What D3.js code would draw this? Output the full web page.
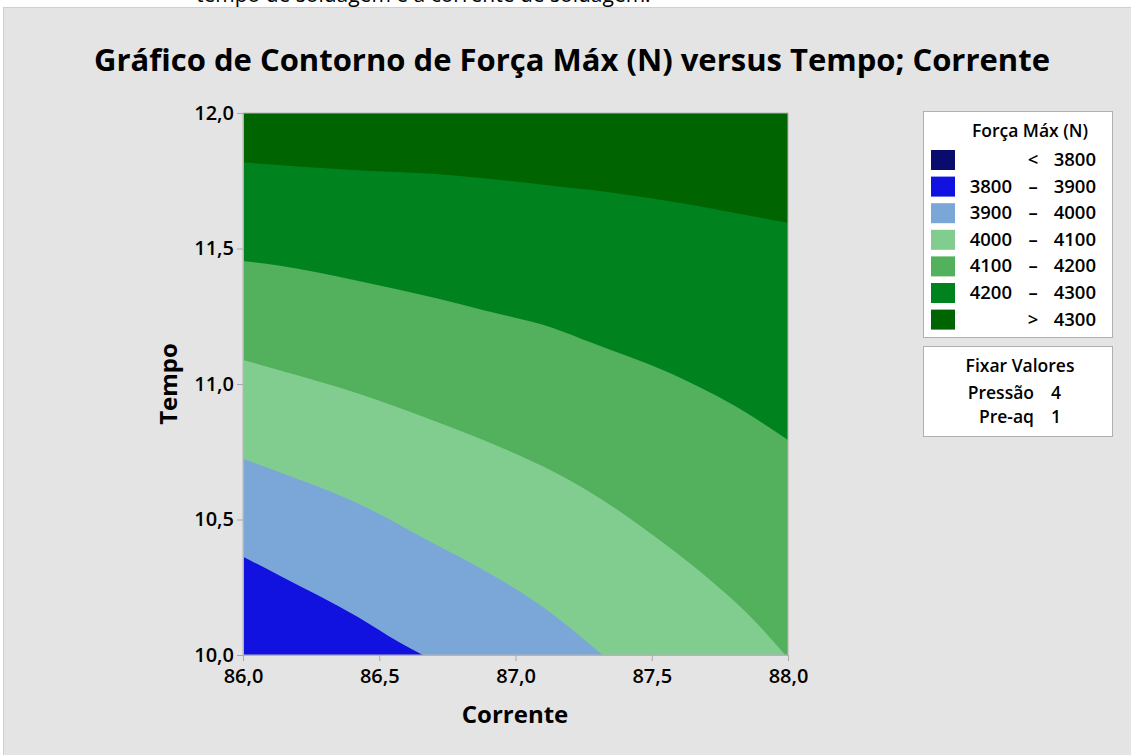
<!DOCTYPE html>
<html>
<head>
<meta charset="utf-8">
<script src="https://cdn.jsdelivr.net/npm/d3@7"></script>
<style>
  body { margin: 0; background: #ffffff; }
  svg text { font-family: "Open Sans", "Noto Sans", sans-serif; fill: #000; }
</style>
</head>
<body>
<div id="chart"></div>
<script>
// valores (Corrente x Tempo)
var xTicks = [86.0, 86.5, 87.0, 87.5, 88.0];
var yTicks = [10.0, 10.5, 11.0, 11.5, 12.0];

// linhas de contorno, pares [Corrente, Tempo]
var line4300 = [[86.00, 11.818], [86.42, 11.789], [86.71, 11.775], [87.14, 11.731], [87.28, 11.716], [87.56, 11.675], [87.85, 11.623], [88.00, 11.595]];
var line4200 = [[86.00, 11.454], [86.13, 11.437], [86.42, 11.381], [86.71, 11.316], [86.88, 11.273], [87.14, 11.206], [87.28, 11.152], [87.56, 11.043], [87.85, 10.892], [88.00, 10.793]];
var line4100 = [[86.00, 11.089], [86.13, 11.052], [86.42, 10.966], [86.71, 10.861], [86.85, 10.806], [87.14, 10.676], [87.28, 10.597], [87.56, 10.400], [87.70, 10.289], [87.85, 10.154], [87.99, 10.000]];
var line4000 = [[86.00, 10.724], [86.13, 10.676], [86.42, 10.560], [86.71, 10.406], [86.85, 10.332], [87.14, 10.148], [87.32, 10.000]];
var line3900 = [[86.00, 10.363], [86.13, 10.295], [86.42, 10.141], [86.57, 10.049], [86.66, 10.000]];

var legendLabels = [["", "<", "3800"], ["3800", "–", "3900"], ["3900", "–", "4000"], ["4000", "–", "4100"], ["4100", "–", "4200"], ["4200", "–", "4300"], ["", ">", "4300"]];
var legendColors = ["#0b0a6e", "#1111e0", "#7ba7d8", "#81cd90", "#53b05c", "#00821f", "#006400"];
var fixedNames = ["Pressão", "Pre-aq"];
var fixedValues = ["4", "1"];

(() => {
    var width = 1131;
    var height = 755;

    var svg = d3.select("#chart")
        .append("svg")
        .attr("width", width)
        .attr("height", height);

    // texto cortado no topo da página (como no original)
    svg.append("text")
        .attr("x", 196)
        .attr("y", 2)
        .attr("font-size", "21px")
        .text("tempo de soldagem e a corrente de soldagem.");

    svg.append("rect")
        .attr("x", 3.5)
        .attr("y", 7.5)
        .attr("width", width)
        .attr("height", height)
        .attr("fill", "#e4e4e4")
        .attr("stroke", "#cfcfcf");

    var locale = d3.formatLocale({ decimal: ",", thousands: ".", grouping: [3], currency: ["", ""] });
    var fmt = locale.format(".1f");

    var xScale = d3.scaleLinear().domain([86, 88]).range([243, 788]);
    var yScale = d3.scaleLinear().domain([10, 12]).range([655, 113]);

    svg.append("text")
        .attr("x", 572)
        .attr("y", 71)
        .attr("text-anchor", "middle")
        .attr("font-size", "31px")
        .attr("font-weight", "bold")
        .text("Gráfico de Contorno de Força Máx (N) versus Tempo; Corrente");

    var plot = svg.append("g");

    plot.append("rect")
        .attr("x", xScale(86))
        .attr("y", yScale(12))
        .attr("width", xScale(88) - xScale(86))
        .attr("height", yScale(10) - yScale(12))
        .attr("fill", legendColors[6]);

    // cada faixa: área abaixo da linha de contorno
    var bands = [
        { pts: line4300, color: legendColors[5] },
        { pts: line4200, color: legendColors[4] },
        { pts: line4100, color: legendColors[3] },
        { pts: line4000, color: legendColors[2] },
        { pts: line3900, color: legendColors[1] }
    ];

    var area = d3.area()
        .x(function (d) { return xScale(d[0]); })
        .y0(yScale(10))
        .y1(function (d) { return yScale(d[1]); })
        .curve(d3.curveMonotoneX);

    bands.forEach(function (b) {
        plot.append("path")
            .attr("d", area(b.pts))
            .attr("fill", b.color);
    });

    plot.append("rect")
        .attr("x", xScale(86))
        .attr("y", yScale(12))
        .attr("width", xScale(88) - xScale(86))
        .attr("height", yScale(10) - yScale(12))
        .attr("fill", "none")
        .attr("stroke", "#b4b4b4")
        .attr("stroke-width", 1);

    var xAxis = svg.append("g")
        .attr("transform", "translate(0," + yScale(10) + ")")
        .call(d3.axisBottom(xScale).tickValues(xTicks).tickFormat(fmt).tickSize(6).tickPadding(8));
    var yAxis = svg.append("g")
        .attr("transform", "translate(" + xScale(86) + ",0)")
        .call(d3.axisLeft(yScale).tickValues(yTicks).tickFormat(fmt).tickSize(6).tickPadding(3));

    [xAxis, yAxis].forEach(function (ax) {
        ax.select(".domain").attr("stroke", "#b4b4b4");
        ax.selectAll(".tick line").attr("stroke", "#a8a8a8");
        ax.selectAll(".tick text")
            .attr("font-size", "20px")
            .attr("font-weight", "600")
            .attr("font-family", "'Open Sans', sans-serif")
            .attr("fill", "#000");
    });

    svg.append("text")
        .attr("x", 515)
        .attr("y", 723)
        .attr("text-anchor", "middle")
        .attr("font-size", "24px")
        .attr("font-weight", "bold")
        .text("Corrente");

    svg.append("text")
        .attr("transform", "translate(177,384) rotate(-90)")
        .attr("text-anchor", "middle")
        .attr("font-size", "24px")
        .attr("font-weight", "bold")
        .text("Tempo");

    // legenda
    var leg = svg.append("g");
    leg.append("rect")
        .attr("x", 923.5).attr("y", 111.5)
        .attr("width", 189).attr("height", 226)
        .attr("fill", "#fff").attr("stroke", "#b0b0b0");
    leg.append("text")
        .attr("x", 1030).attr("y", 137)
        .attr("text-anchor", "middle")
        .attr("font-size", "17.5px").attr("font-weight", "600")
        .text("Força Máx (N)");

    legendLabels.forEach(function (lab, i) {
        var y = 150 + i * 26.6;
        leg.append("rect")
            .attr("x", 931).attr("y", y)
            .attr("width", 24).attr("height", 20)
            .attr("fill", legendColors[i]);
        leg.append("text")
            .attr("x", 1012).attr("y", y + 16)
            .attr("text-anchor", "end")
            .attr("font-size", "18.5px").attr("font-weight", "600")
            .text(lab[0]);
        leg.append("text")
            .attr("x", 1033).attr("y", y + 16)
            .attr("text-anchor", "middle")
            .attr("font-size", "18.5px").attr("font-weight", "600")
            .text(lab[1]);
        leg.append("text")
            .attr("x", 1096).attr("y", y + 16)
            .attr("text-anchor", "end")
            .attr("font-size", "18.5px").attr("font-weight", "600")
            .text(lab[2]);
    });

    var fix = svg.append("g");
    fix.append("rect")
        .attr("x", 923.5).attr("y", 346.5)
        .attr("width", 189).attr("height", 90)
        .attr("fill", "#fff").attr("stroke", "#b0b0b0");
    fix.append("text")
        .attr("x", 1020).attr("y", 372)
        .attr("text-anchor", "middle")
        .attr("font-size", "17.5px").attr("font-weight", "600")
        .text("Fixar Valores");
    fixedNames.forEach(function (n, i) {
        fix.append("text")
            .attr("x", 1034).attr("y", 399 + i * 24)
            .attr("text-anchor", "end")
            .attr("font-size", "17.5px").attr("font-weight", "600")
            .text(n);
        fix.append("text")
            .attr("x", 1056).attr("y", 399 + i * 24)
            .attr("text-anchor", "middle")
            .attr("font-size", "17.5px").attr("font-weight", "600")
            .text(fixedValues[i]);
    });
})();
</script>
</body>
</html>
